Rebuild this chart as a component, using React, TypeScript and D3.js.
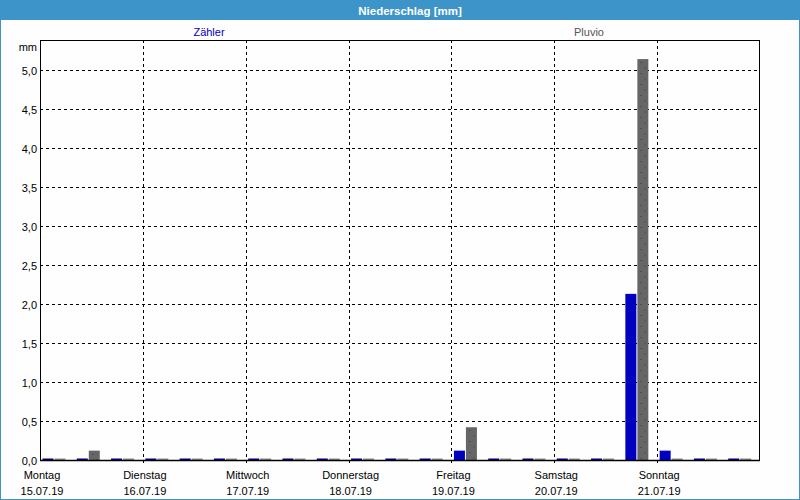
import React from "react";
import * as d3 from "d3";

const seriesNames = ["Zähler", "Pluvio"];
const dayNames = ["Montag", "Dienstag", "Mittwoch", "Donnerstag", "Freitag", "Samstag", "Sonntag"];
const dayDates = ["15.07.19", "16.07.19", "17.07.19", "18.07.19", "19.07.19", "20.07.19", "21.07.19"];
// 8-hour intervals, 15.07.19 00:00 .. 22.07.19 00:00
const zaehler = [0, 0, 0, 0, 0, 0, 0, 0, 0, 0, 0, 0, 0.12, 0, 0, 0, 0, 2.13, 0.12, 0, 0];
const pluvio = [0, 0.12, 0, 0, 0, 0, 0, 0, 0, 0, 0, 0, 0.42, 0, 0, 0, 0, 5.14, 0, 0, 0];
const yTicks = [0, 0.5, 1, 1.5, 2, 2.5, 3, 3.5, 4, 4.5, 5];

const W = 800, H = 500;
const L = 40, R = 760, T = 40, B = 460;
const FONT = "'Liberation Sans', Arial, sans-serif";
const BLUE = "#0000c0";
const GRAY = "#666666";
const FRAME = "#3d94c8";

export default function App() {
  const start = new Date(2019, 6, 15);
  const end = new Date(2019, 6, 22);
  const x = d3.scaleTime().domain([start, end]).range([L, R]);
  const y = d3.scaleLinear().domain([0, 420 / 78]).range([B, T]);
  const inner = d3.scaleBand().domain(seriesNames).range([2.5, 25.5]).paddingInner(1 / 12);
  const days = d3.timeDay.range(start, end);
  const dayBounds = d3.timeDay.range(d3.timeDay.offset(start, 1), end);
  const groups = zaehler.map((_, i) => d3.timeHour.offset(start, 8 * i));
  const fmt = (v: number) => d3.format(".1f")(v).replace(".", ",");

  const pats: React.ReactNode[] = [];
  const bar = (v: number, i: number, s: string, color: string, fill: string, dotted: boolean) => {
    const gx = x(groups[i]) + (inner(s) as number);
    const w = inner.bandwidth();
    if (v <= 0) {
      return <rect key={s + i} x={gx} y={B - 1.5} width={w} height={1.5} fill={color} />;
    }
    let f = fill;
    if (dotted) {
      const id = "dots" + i;
      pats.push(
        <pattern key={id} id={id} width="11" height="11" patternUnits="userSpaceOnUse"
          patternTransform={`translate(${Math.round(gx)},${Math.round(y(v))})`}>
          <rect width="11" height="11" fill={GRAY} />
          <rect x="3.5" y="3" width="1" height="1" fill="#3a3a3a" />
          <rect x="7.5" y="8.5" width="1" height="1" fill="#3a3a3a" />
        </pattern>
      );
      f = `url(#${id})`;
    }
    return <rect key={s + i} x={gx} y={y(v)} width={w} height={B - y(v)} fill={f} />;
  };

  const blueBars = zaehler.map((v, i) => bar(v, i, "Zähler", "#00008a", BLUE, false));
  const grayBars = pluvio.map((v, i) => bar(v, i, "Pluvio", "#8a8a8a", GRAY, true));

  return (
    <svg width={W} height={H} style={{ position: "absolute", left: 0, top: 0, background: "#fdfefd" }}>
      <defs>{pats}</defs>
      <rect x={0.5} y={0.5} width={W - 1} height={H - 1} fill="#fdfefd" stroke={FRAME} />
      <rect x={0} y={0} width={W} height={20} fill={FRAME} />
      <text x={410} y={14.5} textAnchor="middle" fill="#fff" fontFamily={FONT} fontWeight="bold" fontSize={11.5}>
        Niederschlag [mm]
      </text>
      <text x={209} y={36} textAnchor="middle" fill={BLUE} fontFamily={FONT} fontSize={11}>Zähler</text>
      <text x={589} y={36} textAnchor="middle" fill="#555" fontFamily={FONT} fontSize={11}>Pluvio</text>
      <text x={37} y={51} textAnchor="end" fill="#000" fontFamily={FONT} fontSize={11}>mm</text>

      {/* horizontal grid */}
      {yTicks.filter((t) => t > 0).map((t) => (
        <line key={"h" + t} x1={L} x2={R} y1={Math.round(y(t)) + 0.5} y2={Math.round(y(t)) + 0.5}
          stroke="#000" strokeDasharray="3,3" />
      ))}
      {/* vertical grid */}
      {dayBounds.map((d, i) => (
        <line key={"v" + i} x1={Math.round(x(d)) + 0.5} x2={Math.round(x(d)) + 0.5} y1={T} y2={B + 3}
          stroke="#000" strokeDasharray="3,3" />
      ))}

      {/* bars */}
      {blueBars}
      {grayBars}

      {/* frame */}
      <rect x={L + 0.5} y={T + 0.5} width={R - L - 1} height={B - T} fill="none" stroke="#000" />
      <line x1={L} x2={R} y1={B + 0.5} y2={B + 0.5} stroke="#000" strokeWidth={1.5} />

      {/* y labels */}
      {yTicks.map((t) => (
        <text key={"yl" + t} x={37} y={Math.round(y(t)) + 4.5} textAnchor="end" fill="#000" fontFamily={FONT} fontSize={11}>
          {fmt(t)}
        </text>
      ))}

      {/* x labels */}
      {days.map((d, i) => (
        <g key={"xl" + i}>
          <text x={x(d) + 2} y={479} textAnchor="middle" fill="#000" fontFamily={FONT} fontSize={11}>{dayNames[i]}</text>
          <text x={x(d) + 2} y={495} textAnchor="middle" fill="#000" fontFamily={FONT} fontSize={11}>{dayDates[i]}</text>
        </g>
      ))}
    </svg>
  );
}
